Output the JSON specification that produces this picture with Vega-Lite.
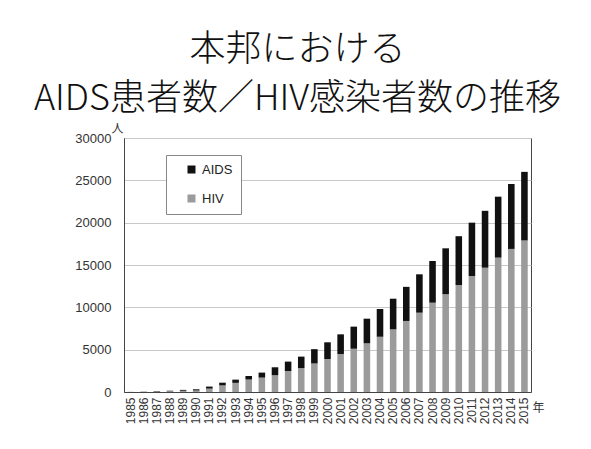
{
  "$schema": "https://vega.github.io/schema/vega-lite/v6.json",
  "width": 407,
  "height": 254,
  "autosize": "none",
  "padding": {"left": 124, "top": 138, "right": 60, "bottom": 57},
  "background": "white",
  "title": {
    "text": ["本邦における", "AIDS患者数／HIV感染者数の推移"],
    "font": "Noto Sans CJK JP",
    "fontSize": 36,
    "fontWeight": 300,
    "lineHeight": 49,
    "color": "#111111",
    "anchor": "middle",
    "frame": "group",
    "dx": -30,
    "offset": 4
  },
  "data": {
    "values": [
      {"year": "1985", "type": "HIV", "count": 0}, {"year": "1985", "type": "AIDS", "count": 10},
      {"year": "1986", "type": "HIV", "count": 20}, {"year": "1986", "type": "AIDS", "count": 20},
      {"year": "1987", "type": "HIV", "count": 50}, {"year": "1987", "type": "AIDS", "count": 50},
      {"year": "1988", "type": "HIV", "count": 90}, {"year": "1988", "type": "AIDS", "count": 60},
      {"year": "1989", "type": "HIV", "count": 150}, {"year": "1989", "type": "AIDS", "count": 100},
      {"year": "1990", "type": "HIV", "count": 180}, {"year": "1990", "type": "AIDS", "count": 140},
      {"year": "1991", "type": "HIV", "count": 400}, {"year": "1991", "type": "AIDS", "count": 240},
      {"year": "1992", "type": "HIV", "count": 780}, {"year": "1992", "type": "AIDS", "count": 320},
      {"year": "1993", "type": "HIV", "count": 1080}, {"year": "1993", "type": "AIDS", "count": 380},
      {"year": "1994", "type": "HIV", "count": 1480}, {"year": "1994", "type": "AIDS", "count": 420},
      {"year": "1995", "type": "HIV", "count": 1700}, {"year": "1995", "type": "AIDS", "count": 590},
      {"year": "1996", "type": "HIV", "count": 1980}, {"year": "1996", "type": "AIDS", "count": 940},
      {"year": "1997", "type": "HIV", "count": 2480}, {"year": "1997", "type": "AIDS", "count": 1110},
      {"year": "1998", "type": "HIV", "count": 2820}, {"year": "1998", "type": "AIDS", "count": 1360},
      {"year": "1999", "type": "HIV", "count": 3370}, {"year": "1999", "type": "AIDS", "count": 1690},
      {"year": "2000", "type": "HIV", "count": 3900}, {"year": "2000", "type": "AIDS", "count": 1970},
      {"year": "2001", "type": "HIV", "count": 4490}, {"year": "2001", "type": "AIDS", "count": 2320},
      {"year": "2002", "type": "HIV", "count": 5110}, {"year": "2002", "type": "AIDS", "count": 2610},
      {"year": "2003", "type": "HIV", "count": 5750}, {"year": "2003", "type": "AIDS", "count": 2910},
      {"year": "2004", "type": "HIV", "count": 6530}, {"year": "2004", "type": "AIDS", "count": 3270},
      {"year": "2005", "type": "HIV", "count": 7400}, {"year": "2005", "type": "AIDS", "count": 3620},
      {"year": "2006", "type": "HIV", "count": 8390}, {"year": "2006", "type": "AIDS", "count": 4030},
      {"year": "2007", "type": "HIV", "count": 9370}, {"year": "2007", "type": "AIDS", "count": 4530},
      {"year": "2008", "type": "HIV", "count": 10550}, {"year": "2008", "type": "AIDS", "count": 4920},
      {"year": "2009", "type": "HIV", "count": 11550}, {"year": "2009", "type": "AIDS", "count": 5420},
      {"year": "2010", "type": "HIV", "count": 12640}, {"year": "2010", "type": "AIDS", "count": 5760},
      {"year": "2011", "type": "HIV", "count": 13700}, {"year": "2011", "type": "AIDS", "count": 6300},
      {"year": "2012", "type": "HIV", "count": 14680}, {"year": "2012", "type": "AIDS", "count": 6720},
      {"year": "2013", "type": "HIV", "count": 15870}, {"year": "2013", "type": "AIDS", "count": 7200},
      {"year": "2014", "type": "HIV", "count": 16900}, {"year": "2014", "type": "AIDS", "count": 7670},
      {"year": "2015", "type": "HIV", "count": 17910}, {"year": "2015", "type": "AIDS", "count": 8090}
    ]
  },
  "mark": {"type": "bar"},
  "encoding": {
    "x": {
      "field": "year",
      "type": "ordinal",
      "scale": {"paddingInner": 0.5, "paddingOuter": 0.25},
      "axis": {
        "title": "年",
        "titleAngle": 0,
        "titleX": 414,
        "titleY": 15,
        "titleAlign": "center",
        "titleBaseline": "middle",
        "titleFont": "Noto Sans CJK JP",
        "titleFontSize": 12,
        "titleFontWeight": "normal",
        "titleColor": "#333333",
        "labelAngle": -90,
        "labelPadding": 5,
        "labelOverlap": false,
        "labelFont": "Liberation Sans",
        "labelFontSize": 12,
        "labelColor": "#333333",
        "ticks": false,
        "domainColor": "#444444"
      }
    },
    "y": {
      "field": "count",
      "type": "quantitative",
      "stack": "zero",
      "scale": {"domain": [0, 30000], "nice": false},
      "axis": {
        "values": [0, 5000, 10000, 15000, 20000, 25000, 30000],
        "format": "d",
        "title": "人",
        "titleAngle": 0,
        "titleX": -7,
        "titleY": -10,
        "titleAlign": "center",
        "titleBaseline": "middle",
        "titleFont": "Noto Sans CJK JP",
        "titleFontSize": 12,
        "titleFontWeight": "normal",
        "titleColor": "#333333",
        "labelPadding": 13,
        "labelFont": "Liberation Sans",
        "labelFontSize": 13,
        "labelColor": "#333333",
        "ticks": false,
        "domainColor": "#444444",
        "gridColor": "#c8c8c8"
      }
    },
    "color": {
      "field": "type",
      "type": "nominal",
      "scale": {"domain": ["AIDS", "HIV"], "range": ["#111111", "#9b9b9b"]},
      "legend": {
        "title": null,
        "orient": "none",
        "legendX": 42,
        "legendY": 17,
        "padding": 8,
        "strokeColor": "#888888",
        "fillColor": "white",
        "symbolType": "square",
        "symbolSize": 64,
        "symbolOffset": 11,
        "labelOffset": 4,
        "rowPadding": 15,
        "labelFont": "Liberation Sans",
        "labelFontSize": 13,
        "labelColor": "#222222",
        "labelExpr": "datum.label + '\u3000\u3000'"
      }
    },
    "order": {"field": "type", "sort": "descending"}
  },
  "config": {
    "view": {"stroke": "#444444", "strokeWidth": 1}
  }
}
